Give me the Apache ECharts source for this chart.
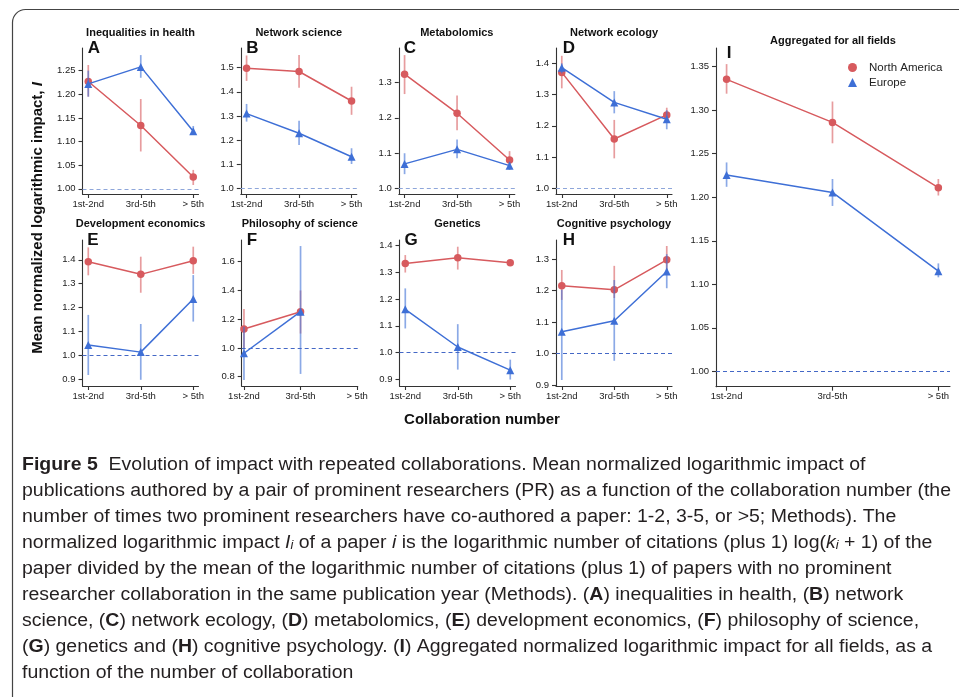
<!DOCTYPE html>
<html><head><meta charset="utf-8">
<script src="https://cdn.jsdelivr.net/npm/echarts@6/dist/echarts.min.js"></script>
<style>html,body{margin:0;padding:0;background:#fff}#c{width:959px;height:697px}</style>
</head><body><div id="c"></div>
<script>
// ---------- data ----------
const categories = ['1st-2nd', '3rd-5th', '> 5th'];
const panelTitles = ['Inequalities in health', 'Network science', 'Metabolomics', 'Network ecology',
  'Development economics', 'Philosophy of science', 'Genetics', 'Cognitive psychology', 'Aggregated for all fields'];
const panelLetters = ['A', 'B', 'C', 'D', 'E', 'F', 'G', 'H', 'I'];
const seriesNames = ['North America', 'Europe'];

// each point: [mean, lower, upper]
const naA = [[1.227, 1.195, 1.262], [1.134, 1.079, 1.190], [1.025, 1.008, 1.040]];
const euA = [[1.222, 1.195, 1.250], [1.258, 1.235, 1.283], [1.122, 1.115, 1.133]];
const naB = [[1.497, 1.445, 1.550], [1.484, 1.417, 1.552], [1.362, 1.305, 1.421]];
const euB = [[1.310, 1.277, 1.350], [1.229, 1.180, 1.281], [1.132, 1.102, 1.167]];
const naC = [[1.323, 1.267, 1.377], [1.213, 1.165, 1.263], [1.081, 1.065, 1.106]];
const euC = [[1.070, 1.041, 1.100], [1.111, 1.086, 1.139], [1.065, 1.053, 1.076]];
const naD = [[1.371, 1.320, 1.424], [1.158, 1.096, 1.219], [1.235, 1.213, 1.258]];
const euD = [[1.386, 1.368, 1.400], [1.275, 1.240, 1.311], [1.221, 1.189, 1.250]];
const naE = [[1.392, 1.335, 1.452], [1.339, 1.262, 1.413], [1.396, 1.341, 1.455]];
const euE = [[1.043, 0.917, 1.169], [1.013, 0.897, 1.131], [1.236, 1.141, 1.336]];
const naF = [[1.132, 0.990, 1.271], [1.252, 1.100, 1.400], null];
const euF = [[0.963, 0.777, 1.148], [1.252, 0.819, 1.709], null];
const naG = [[1.332, 1.298, 1.363], [1.353, 1.309, 1.394], [1.334, 1.327, 1.340]];
const euG = [[1.161, 1.090, 1.239], [1.021, 0.937, 1.106], [0.935, 0.900, 0.974]];
const naH = [[1.215, 1.170, 1.265], [1.202, 1.176, 1.278], [1.297, 1.260, 1.341]];
const euH = [[1.069, 0.916, 1.202], [1.104, 0.977, 1.233], [1.260, 1.207, 1.315]];
const naI = [[1.3355, 1.319, 1.353], [1.286, 1.262, 1.310], [1.211, 1.202, 1.221]];
const euI = [[1.2255, 1.212, 1.240], [1.2055, 1.190, 1.221], [1.115, 1.108, 1.124]];

const yTicksA = [1.00, 1.05, 1.10, 1.15, 1.20, 1.25];
const yTicksB = [1.0, 1.1, 1.2, 1.3, 1.4, 1.5];
const yTicksC = [1.0, 1.1, 1.2, 1.3];
const yTicksD = [1.0, 1.1, 1.2, 1.3, 1.4];
const yTicksE = [0.9, 1.0, 1.1, 1.2, 1.3, 1.4];
const yTicksF = [0.8, 1.0, 1.2, 1.4, 1.6];
const yTicksG = [0.9, 1.0, 1.1, 1.2, 1.3, 1.4];
const yTicksH = [0.9, 1.0, 1.1, 1.2, 1.3];
const yTicksI = [1.00, 1.05, 1.10, 1.15, 1.20, 1.25, 1.30, 1.35];
const yDecimals = [2, 1, 1, 1, 1, 1, 1, 1, 2];
const referenceLevel = 1.0;

const xTitle = 'Collaboration number';
const yTitleMain = 'Mean normalized logarithmic impact, ';
const yTitleSym = 'I';

const captionLines = [
  [['b', 'Figure 5'], ['n', '  Evolution of impact with repeated collaborations. Mean normalized logarithmic impact of']],
  [['n', 'publications authored by a pair of prominent researchers (PR) as a function of the collaboration number (the']],
  [['n', 'number of times two prominent researchers have co-authored a paper: 1-2, 3-5, or >5; Methods). The']],
  [['n', 'normalized logarithmic impact '], ['i', 'I'], ['s', 'i'], ['n', ' of a paper '], ['i', 'i'], ['n', ' is the logarithmic number of citations (plus 1) log('], ['i', 'k'], ['s', 'i'], ['n', ' + 1) of the']],
  [['n', 'paper divided by the mean of the logarithmic number of citations (plus 1) of papers with no prominent']],
  [['n', 'researcher collaboration in the same publication year (Methods). ('], ['b', 'A'], ['n', ') inequalities in health, ('], ['b', 'B'], ['n', ') network']],
  [['n', 'science, ('], ['b', 'C'], ['n', ') network ecology, ('], ['b', 'D'], ['n', ') metabolomics, ('], ['b', 'E'], ['n', ') development economics, ('], ['b', 'F'], ['n', ') philosophy of science,']],
  [['n', '('], ['b', 'G'], ['n', ') genetics and ('], ['b', 'H'], ['n', ') cognitive psychology. ('], ['b', 'I'], ['n', ') Aggregated normalized logarithmic impact for all fields, as a']],
  [['n', 'function of the number of collaboration']]
];

// ---------- layout / style ----------
const RED = '#d75a5e', BLUE = '#3e6fd6';
const naData = [naA, naB, naC, naD, naE, naF, naG, naH, naI];
const euData = [euA, euB, euC, euD, euE, euF, euG, euH, euI];
const yTicks = [yTicksA, yTicksB, yTicksC, yTicksD, yTicksE, yTicksF, yTicksG, yTicksH, yTicksI];

const layout = [
  {left: 82.5, top: 48, width: 116, height: 146, xMin: -0.11, xMax: 2.1, yMin: 0.989, yMax: 1.298, titleY: 32.5, letterX: 94, letterY: 48, dash: '#8ea6da'},
  {left: 240.8, top: 48, width: 116, height: 146, xMin: -0.11, xMax: 2.1, yMin: 0.978, yMax: 1.581, titleY: 32.5, letterX: 252.5, letterY: 48, dash: '#8ea6da'},
  {left: 398.8, top: 48, width: 116, height: 146, xMin: -0.11, xMax: 2.1, yMin: 0.985, yMax: 1.397, titleY: 32.5, letterX: 410, letterY: 48, dash: '#8ea6da'},
  {left: 556, top: 48, width: 116, height: 146, xMin: -0.11, xMax: 2.1, yMin: 0.982, yMax: 1.449, titleY: 32.5, letterX: 569, letterY: 48, dash: '#8ea6da'},
  {left: 82.5, top: 240, width: 116, height: 146, xMin: -0.11, xMax: 2.1, yMin: 0.871, yMax: 1.483, titleY: 224, letterX: 93, letterY: 240, dash: '#4468c6'},
  {left: 241.7, top: 240, width: 116, height: 146, xMin: -0.04, xMax: 2.01, yMin: 0.735, yMax: 1.751, titleY: 224, letterX: 252, letterY: 240, dash: '#4468c6'},
  {left: 399.5, top: 240, width: 116, height: 146, xMin: -0.11, xMax: 2.1, yMin: 0.876, yMax: 1.419, titleY: 224, letterX: 411, letterY: 240, dash: '#4468c6'},
  {left: 556, top: 240, width: 116, height: 146, xMin: -0.11, xMax: 2.1, yMin: 0.897, yMax: 1.360, titleY: 224, letterX: 569, letterY: 240, dash: '#4468c6'},
  {left: 716, top: 48, width: 234, height: 338.7, xMin: -0.1, xMax: 2.11, yMin: 0.9823, yMax: 1.3715, titleY: 41, letterX: 729, letterY: 53, dash: '#4468c6'}
];

const AXIS_COLOR = '#333';
const FONT = '"Liberation Sans", Arial, sans-serif';

const grids = [], xAxes = [], yAxes = [], series = [], graphics = [];

function errSeries(pts, color, gi, z) {
  const data = [];
  pts.forEach((d, i) => { if (d) data.push([i, d[1], d[2]]); });
  return {
    type: 'custom', name: 'err', xAxisIndex: gi, yAxisIndex: gi, z: z, silent: true,
    encode: {x: 0, y: [1, 2]},
    data: data,
    renderItem: (params, api) => {
      const x = api.value(0);
      const p1 = api.coord([x, api.value(1)]);
      const p2 = api.coord([x, api.value(2)]);
      return {type: 'line', shape: {x1: p1[0], y1: p1[1], x2: p2[0], y2: p2[1]},
        style: {stroke: color, lineWidth: 1.7, opacity: 0.6}};
    }
  };
}
function lineSeries(pts, name, color, symbol, gi, z, extra) {
  const data = [];
  pts.forEach((d, i) => { if (d) data.push([i, d[0]]); });
  return Object.assign({
    type: 'line', name: name, xAxisIndex: gi, yAxisIndex: gi, z: z, silent: true,
    data: data, symbol: symbol, symbolSize: symbol === 'circle' ? 7.5 : 8,
    lineStyle: {color: color, width: 1.5}, itemStyle: {color: color}
  }, extra || {});
}

layout.forEach((L, i) => {
  grids.push({left: L.left, top: L.top, width: L.width, height: L.height, containLabel: false});
  const axisLineStyle = {color: AXIS_COLOR, width: 1.1};
  xAxes.push({
    type: 'value', gridIndex: i, min: L.xMin, max: L.xMax,
    axisLine: {show: true, onZero: false, lineStyle: axisLineStyle},
    axisTick: {show: true, length: 4, customValues: [0, 1, 2], lineStyle: axisLineStyle},
    axisLabel: {customValues: [0, 1, 2], formatter: v => categories[Math.round(v)], fontSize: 9.5, color: '#222', margin: 5, fontFamily: FONT},
    splitLine: {show: false}
  });
  yAxes.push({
    type: 'value', gridIndex: i, min: L.yMin, max: L.yMax,
    axisLine: {show: true, onZero: false, lineStyle: axisLineStyle},
    axisTick: {show: true, length: 4, customValues: yTicks[i], lineStyle: axisLineStyle},
    axisLabel: {customValues: yTicks[i], formatter: v => v.toFixed(yDecimals[i]), fontSize: 9.5, color: '#222', margin: 7, fontFamily: FONT},
    splitLine: {show: false}
  });
  series.push(errSeries(naData[i], RED, i, 2));
  series.push(lineSeries(naData[i], seriesNames[0], RED, 'circle', i, 3, {
    markLine: {silent: true, symbol: 'none', label: {show: false},
      lineStyle: {type: [4, 3], color: L.dash, width: 1}, data: [{yAxis: referenceLevel}]}
  }));
  series.push(errSeries(euData[i], BLUE, i, 4));
  series.push(lineSeries(euData[i], seriesNames[1], BLUE, 'triangle', i, 5));

  graphics.push({type: 'text', x: L.left + L.width / 2, y: L.titleY,
    style: {text: panelTitles[i], fill: '#111', fontSize: 11, fontWeight: 'bold', fontFamily: FONT,
      align: 'center', verticalAlign: 'middle', textAlign: 'center', textVerticalAlign: 'middle'}});
  graphics.push({type: 'text', x: L.letterX, y: L.letterY,
    style: {text: panelLetters[i], fill: '#111', fontSize: 17, fontWeight: 'bold', fontFamily: FONT,
      align: 'center', verticalAlign: 'middle', textAlign: 'center', textVerticalAlign: 'middle'}});
});

// axis titles
graphics.push({type: 'text', x: 482, y: 420,
  style: {text: xTitle, fill: '#111', fontSize: 15, fontWeight: 'bold', fontFamily: FONT,
    align: 'center', verticalAlign: 'middle', textAlign: 'center', textVerticalAlign: 'middle'}});
graphics.push({type: 'text', x: 38, y: 218, rotation: Math.PI / 2,
  style: {text: '{n|' + yTitleMain + '}{it|' + yTitleSym + '}', fill: '#111', fontSize: 15, fontWeight: 'bold', fontFamily: FONT,
    align: 'center', verticalAlign: 'middle', textAlign: 'center', textVerticalAlign: 'middle',
    rich: {n: {fontSize: 15, fontWeight: 'bold', fontFamily: FONT, fill: '#111'},
           it: {fontSize: 15, fontWeight: 'bold', fontStyle: 'italic', fontFamily: FONT, fill: '#111'}}}});

// frame
graphics.push({type: 'rect', shape: {x: 12.5, y: 9.5, width: 1000, height: 760, r: 13},
  style: {fill: 'none', stroke: '#444', lineWidth: 1.2}, z: 0});

// caption
const CAP_SIZE = 18, CAP_FONT = '"Liberation Sans", Arial, sans-serif';
const capRich = {
  n: {fontSize: CAP_SIZE, fontFamily: CAP_FONT, fill: '#231f20'},
  b: {fontSize: CAP_SIZE, fontFamily: CAP_FONT, fontWeight: 'bold', fill: '#231f20'},
  i: {fontSize: CAP_SIZE, fontFamily: CAP_FONT, fontStyle: 'italic', fill: '#231f20'},
  s: {fontSize: 12, fontFamily: CAP_FONT, fontStyle: 'italic', fill: '#231f20', verticalAlign: 'bottom'}
};
const cv = document.createElement('canvas').getContext('2d');
function segWidth(seg) {
  const st = seg[0];
  const size = st === 's' ? 12 : CAP_SIZE;
  const weight = st === 'b' ? 'bold' : 'normal';
  const style = (st === 'i' || st === 's') ? 'italic' : 'normal';
  cv.font = style + ' ' + weight + ' ' + size + 'px ' + CAP_FONT;
  return cv.measureText(seg[1]).width;
}
const line2Width = captionLines[1].reduce((a, s) => a + segWidth(s), 0);
const capScale = 929 / line2Width;
captionLines.forEach((line, k) => {
  const txt = line.map(s => '{' + s[0] + '|' + s[1] + '}').join('');
  graphics.push({type: 'text', x: 22, y: 465 + 26 * k, scaleX: capScale, scaleY: 1,
    style: {text: txt, rich: capRich, fill: '#231f20', fontSize: CAP_SIZE, fontFamily: CAP_FONT,
      align: 'left', verticalAlign: 'middle', textAlign: 'left', textVerticalAlign: 'middle'}});
});

const chart = echarts.init(document.getElementById('c'), null, {renderer: 'canvas', width: 959, height: 697});
chart.setOption({
  animation: false,
  backgroundColor: '#fff',
  grid: grids, xAxis: xAxes, yAxis: yAxes, series: series,
  legend: {
    data: [{name: seriesNames[0], icon: 'circle'}, {name: seriesNames[1], icon: 'triangle'}],
    left: 843, top: 56.5, orient: 'vertical', itemWidth: 9, itemHeight: 9, itemGap: 3,
    selectedMode: false,
    textStyle: {fontSize: 11.5, color: '#222', fontFamily: FONT, padding: [0, 0, 0, 7]}
  },
  graphic: {elements: graphics}
});
</script>
</body></html>
